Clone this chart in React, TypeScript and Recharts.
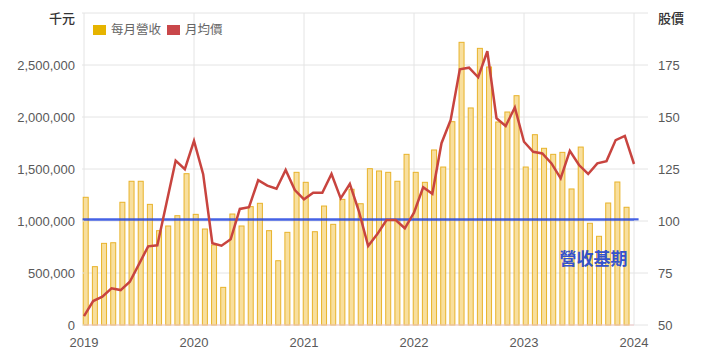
import React from "react"
import {
	ComposedChart,
	Bar,
	Line,
	XAxis,
	YAxis,
	CartesianGrid,
	ReferenceLine,
} from "recharts"

// monthly revenue, thousand NTD, 2019-01 .. 2023-12
const revenue2019 = [1228, 561, 785, 791, 1180, 1382, 1382, 1160, 907, 952, 1051, 1455]
const revenue2020 = [1064, 923, 769, 362, 1067, 952, 1138, 1170, 907, 618, 891, 1468]
const revenue2021 = [1372, 897, 1144, 968, 1208, 1305, 1166, 1503, 1481, 1468, 1382, 1641]
const revenue2022 = [1468, 1372, 1683, 1519, 1955, 2718, 2087, 2660, 2481, 1952, 2048, 2205]
const revenue2023 = [1519, 1830, 1699, 1641, 1660, 1308, 1711, 978, 853, 1173, 1375, 1132]

// monthly average price, 2019-01 .. 2024-01
const avgPrice = [
	54.3, 61.5, 63.6, 67.6, 66.8, 70.8, 79.3, 87.8, 88.3, 108.7, 129.0, 124.9,
	138.5, 122.5, 89.3, 88.1, 91.2, 105.8, 106.6, 119.6, 117.0, 115.5, 124.5, 114.9,
	110.4, 113.6, 113.6, 122.6, 110.9, 117.8, 104.5, 88.0, 93.7, 100.5, 100.5, 96.5,
	104.0, 116.2, 113.1, 137.4, 148.6, 172.9, 173.7, 169.1, 181.6, 149.4, 145.7, 154.6,
	138.1, 133.3, 132.5, 127.7, 120.5, 133.7, 126.9, 122.6, 127.7, 128.8, 138.9, 140.9,
	127.4,
]

const years = ["2019", "2020", "2021", "2022", "2023", "2024"]
const revenueBase = 1015000
const leftTicks = [0, 500000, 1000000, 1500000, 2000000, 2500000, 3000000]
const rightTicks = [50, 75, 100, 125, 150, 175, 200]

const revenue = [
	...revenue2019,
	...revenue2020,
	...revenue2021,
	...revenue2022,
	...revenue2023,
].map((v) => v * 1000)

const rows = avgPrice.map((p, i) => ({
	t: i,
	revenue: i < revenue.length ? revenue[i] : null,
	price: p,
}))

const FONT = '"Liberation Sans", "Noto Sans CJK TC", sans-serif'
const GRID = "#e4e4e4"

const LeftTick = ({ x, y, payload }: any) => {
	if (payload.value === 3000000) {
		return (
			<text x={x} y={y + 5} dy="0.355em" textAnchor="end" fill="#333" fontSize={13} fontWeight={500} fontFamily={FONT}>
				千元
			</text>
		)
	}
	return (
		<text x={x} y={y} dy="0.355em" textAnchor="end" fill="#595959" fontSize={13} fontFamily={FONT}>
			{payload.value.toLocaleString("en-US")}
		</text>
	)
}

const RightTick = ({ x, y, payload }: any) => {
	if (payload.value === 200) {
		return (
			<text x={x} y={y + 5} dy="0.355em" textAnchor="start" fill="#333" fontSize={13} fontWeight={500} fontFamily={FONT}>
				股價
			</text>
		)
	}
	return (
		<text x={x} y={y} dy="0.355em" textAnchor="start" fill="#595959" fontSize={13} fontFamily={FONT}>
			{payload.value}
		</text>
	)
}

const RevenueBar = (props: any) => {
	const { x, y, width, height } = props
	if (!height || height <= 0) return null
	return (
		<rect
			x={x + 1.8}
			y={y}
			width={width}
			height={height}
			fill="#f7db93"
			fillOpacity={0.9}
			stroke="#e8b32a"
			strokeWidth={1}
		/>
	)
}

const legendItems = [
	{ label: "每月營收", color: "#e6b400" },
	{ label: "月均價", color: "#c9474a" },
]

export default function App() {
	return (
		<div style={{ position: "absolute", left: 0, top: 0, width: 704, height: 363, background: "#fff" }}>
			<ComposedChart
				width={704}
				height={363}
				data={rows}
				margin={{ top: 13, right: 0, bottom: 8, left: 0 }}
			>
				<CartesianGrid yAxisId="left" stroke={GRID} />
				<XAxis
					dataKey="t"
					type="number"
					domain={[0, 60]}
					ticks={[0, 12, 24, 36, 48, 60]}
					tickFormatter={(v) => years[v / 12]}
					height={30}
					axisLine={{ stroke: "#f0c8c8" }}
					tickLine={false}
					tickSize={4}
					tickMargin={9}
					tick={{ fill: "#595959", fontSize: 13, fontFamily: FONT }}
					interval={0}
				/>
				<YAxis
					yAxisId="left"
					domain={[0, 3000000]}
					ticks={leftTicks}
					width={84}
					axisLine={false}
					tickLine={{ stroke: GRID }}
					tickSize={2}
					tickMargin={7}
					tick={<LeftTick />}
					interval={0}
				/>
				<YAxis
					yAxisId="right"
					orientation="right"
					domain={[50, 200]}
					ticks={rightTicks}
					width={70}
					axisLine={false}
					tickLine={{ stroke: GRID }}
					tickSize={14}
					tickMargin={10}
					tick={<RightTick />}
					interval={0}
				/>
				<Bar
					yAxisId="left"
					dataKey="revenue"
					barSize={5}
					fill="#f7db93"
					shape={<RevenueBar />}
					isAnimationActive={false}
				/>
				<ReferenceLine
					yAxisId="left"
					ifOverflow="visible"
					segment={[
						{ x: -0.15, y: revenueBase },
						{ x: 60.5, y: revenueBase },
					]}
					stroke="#2447e0"
					strokeOpacity={0.85}
					strokeWidth={2.5}
					label={(p: any) => (
						<text
							x={p.viewBox.x + p.viewBox.width - 11}
							y={p.viewBox.y + 41}
							textAnchor="end"
							dominantBaseline="middle"
							fill="#3552cc"
							fontSize={17}
							fontWeight={700}
							fontFamily={FONT}
						>
							營收基期
						</text>
					)}
				/>
				<Line
					yAxisId="right"
					dataKey="price"
					stroke="#c8443f"
					strokeWidth={2.5}
					dot={false}
					activeDot={false}
					isAnimationActive={false}
				/>
			</ComposedChart>
			<div
				style={{
					position: "absolute",
					left: 93,
					top: 22,
					display: "flex",
					alignItems: "center",
					fontFamily: FONT,
					fontSize: 12.5,
					color: "#666",
					lineHeight: "16px",
				}}
			>
				{legendItems.map((it) => (
					<div key={it.label} style={{ display: "flex", alignItems: "center", marginRight: 6 }}>
						<span style={{ display: "inline-block", width: 13, height: 10, background: it.color, marginRight: 5 }} />
						<span>{it.label}</span>
					</div>
				))}
			</div>
		</div>
	)
}
